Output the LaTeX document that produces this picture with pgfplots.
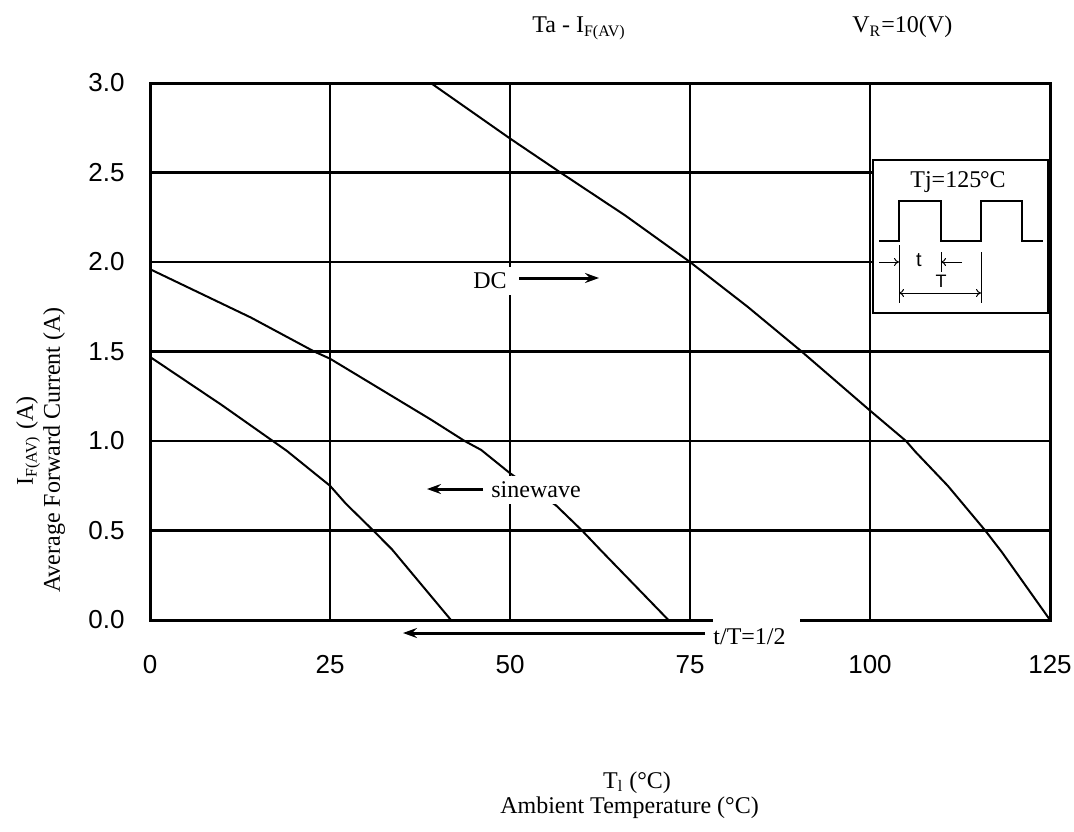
\documentclass[border=0pt]{standalone}
\usepackage{fontspec}
\setmainfont{Liberation Serif}
\newfontfamily\tickfont{Liberation Sans}
\usepackage{pgfplots}
\pgfplotsset{compat=1.18}
\usetikzlibrary{arrows.meta}

\begin{document}
\begin{tikzpicture}[font=\fontsize{12}{14}\selectfont]
\path[use as bounding box] (-75pt,-105.5pt) rectangle (462pt,310pt);
\begin{axis}[
  scale only axis, width=450pt, height=268.5pt,
  xmin=0, xmax=125, ymin=0, ymax=3,
  xtick={0,25,50,75,100,125},
  ytick={0,0.5,1,1.5,2,2.5,3},
  grid=major,
  major grid style={black, line width=1.2pt},
  axis line style={black, line width=1.5pt},
  major tick length=0pt,
  tick label style={font=\tickfont\fontsize{13}{15}\selectfont},
  /pgf/number format/assume math mode=true,
  yticklabel style={/pgf/number format/fixed, /pgf/number format/fixed zerofill, /pgf/number format/precision=1, anchor=east, inner sep=0pt, xshift=-12.5pt},
  xticklabel style={anchor=base, yshift=-26.5pt},
  clip=false,
]
% DC
\addplot[black, line width=1pt] coordinates {
 (39,3.0) (50,2.69) (57,2.5) (66,2.26) (75,2.0) (83,1.75) (90.5,1.5) (100,1.17)
 (105,1.0) (106.3,0.94) (110.8,0.75) (116,0.5) (118.3,0.38) (125,0)};
% sinewave
\addplot[black, line width=1pt] coordinates {
 (0,1.96) (14,1.69) (22.8,1.5) (25,1.46) (39,1.12) (43.7,1.0) (46,0.95) (50,0.82)
 (56.4,0.64) (60,0.5) (62.6,0.39) (72,0)};
% t/T = 1/2
\addplot[black, line width=1pt] coordinates {
 (0,1.47) (10,1.2) (19,0.945) (25,0.75) (27.2,0.65) (31,0.5) (33.6,0.395) (41.8,0)};
\end{axis}

% titles
\node[anchor=base west, inner sep=0pt] at (191pt,293.5pt) {Ta - I\textsubscript{F(AV)}};
\node[anchor=base west, inner sep=0pt] at (351pt,293.5pt) {V\textsubscript{R}=10(V)};

% axis labels
\node[rotate=90, anchor=base, inner sep=0pt] at (-58.5pt,89.5pt) {I\textsubscript{F(AV)} (A)};
\node[rotate=90, anchor=base, inner sep=0pt] at (-45pt,85pt) {Average Forward Current (A)};
\node[anchor=base, inner sep=0pt] at (243.5pt,-84pt) {T\textsubscript{l} (°C)};
\node[anchor=base, inner sep=0pt] at (239.75pt,-96.5pt) {Ambient Temperature (°C)};

% DC annotation
\node[fill=white, inner sep=3pt] at (170pt,169.5pt) {DC};
\draw[line width=1.5pt, -{Stealth[length=7pt,width=5pt,inset=2.5pt]}] (184.5pt,171pt) -- (224.5pt,171pt);

% sinewave annotation
\node[fill=white, inner sep=3pt] at (193pt,65pt) {sinewave};
\draw[line width=1.5pt, -{Stealth[length=7pt,width=5pt,inset=2.5pt]}] (166.5pt,65.5pt) -- (138.5pt,65.5pt);

% t/T annotation
\fill[white] (281.5pt,2.5pt) rectangle (325pt,-15pt);
\node[anchor=west, inner sep=0pt] at (281.5pt,-8.5pt) {t/T=1/2};
\draw[line width=1.5pt, -{Stealth[length=7pt,width=5pt,inset=2.5pt]}] (277.5pt,-6.5pt) -- (126.5pt,-6.5pt);

% inset
\draw[line width=1pt, fill=white] (361.5pt,230pt) rectangle (449pt,153.5pt);
\node[anchor=base, inner sep=0pt] at (404pt,216pt) {Tj=125\kern-0.05em°C};
\draw[line width=0.6pt] (364.5pt,189.5pt) -- (374.5pt,189.5pt) -- (374.5pt,209.5pt) -- (395.5pt,209.5pt)
  -- (395.5pt,189.5pt) -- (415.5pt,189.5pt) -- (415.5pt,209.5pt) -- (436pt,209.5pt) -- (436pt,189.5pt) -- (446.5pt,189.5pt);
\draw[line width=0.5pt] (374.5pt,187.5pt) -- (374.5pt,158.5pt);
\draw[line width=0.5pt] (395.5pt,184pt) -- (395.5pt,174pt);
\draw[line width=0.5pt] (415.5pt,184pt) -- (415.5pt,158.5pt);
\draw[line width=0.5pt, -{To[length=2.5pt,width=4pt]}] (364.5pt,179pt) -- (374.5pt,179pt);
\draw[line width=0.5pt, -{To[length=2.5pt,width=4pt]}] (406pt,179pt) -- (395.5pt,179pt);
\draw[line width=0.5pt, {To[length=2.5pt,width=4pt]}-{To[length=2.5pt,width=4pt]}] (374.5pt,163.5pt) -- (415.5pt,163.5pt);
\node[inner sep=0pt, font=\tickfont\fontsize{10}{12}\selectfont] at (384.5pt,180pt) {t};
\node[inner sep=0pt, font=\tickfont\fontsize{9}{11}\selectfont] at (395.5pt,169.5pt) {T};
\end{tikzpicture}
\end{document}
